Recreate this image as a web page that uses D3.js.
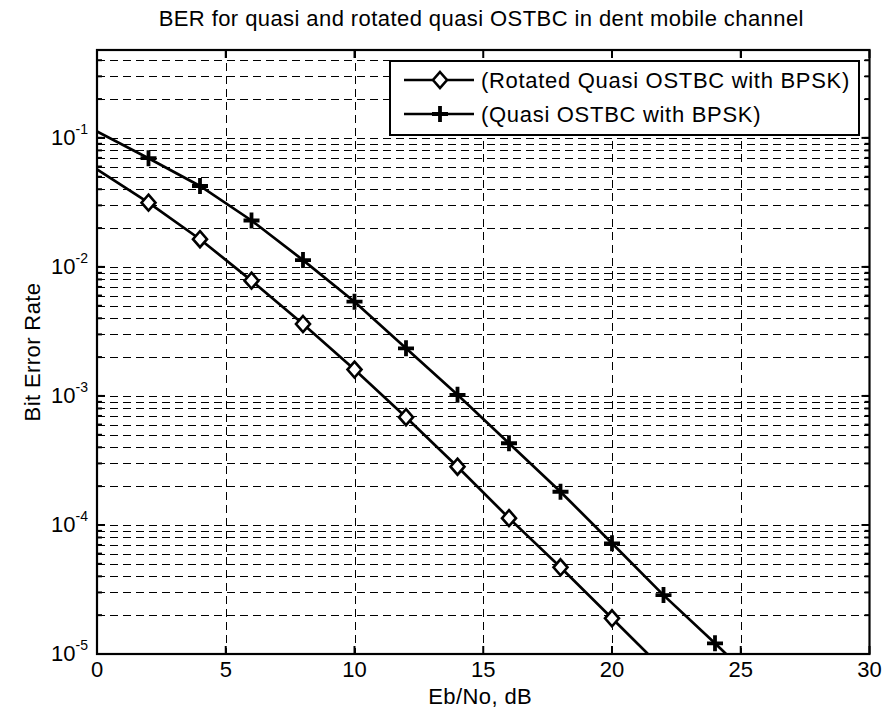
<!DOCTYPE html>
<html>
<head>
<meta charset="utf-8">
<script src="https://cdn.jsdelivr.net/npm/d3@7"></script>
<style>
  html, body { margin: 0; padding: 0; background: #fff; }
  svg { display: block; }
  text { font-family: "Liberation Sans", Arial, Helvetica, sans-serif; fill: #000; }
</style>
</head>
<body>
<script>
// ---- data ----
const titleText = "BER for quasi and rotated quasi OSTBC in dent mobile channel";
const xLabelText = "Eb/No, dB";
const yLabelText = "Bit Error Rate";
const seriesNames = ["(Rotated Quasi OSTBC with BPSK)", "(Quasi OSTBC with BPSK)"];

const snrRotated = [0, 2, 4, 6, 8, 10, 12, 14, 16, 18, 20, 22];
const berRotated = [0.0571, 0.0315, 0.0164, 0.00783, 0.00361, 0.00160, 6.84e-4, 2.83e-4, 1.13e-4, 4.70e-5, 1.89e-5, 7.6e-6];

const snrQuasi = [0, 2, 4, 6, 8, 10, 12, 14, 16, 18, 20, 22, 24, 26];
const berQuasi = [0.112, 0.0696, 0.0424, 0.0229, 0.0113, 0.00538, 0.00234, 0.00102, 4.30e-4, 1.81e-4, 7.21e-5, 2.86e-5, 1.21e-5, 5.0e-6];

const xTicks = [0, 5, 10, 15, 20, 25, 30];
const yTickExponents = [-5, -4, -3, -2, -1];

(function () {
// ---- layout ----
const W = 883, H = 713;
const pL = 97, pR = 869.5, pT = 50, pB = 654;
const FS = 22;

const svg = d3.select("body").append("svg").attr("width", W).attr("height", H);

const x = d3.scaleLinear().domain([0, 30]).range([pL, pR]);
const y = d3.scaleLog().domain([1e-5, 0.48]).range([pB, pT]);

// minor values for log grid
const minorVals = [];
for (let e = -5; e <= -1; e++) {
  for (let m = 1; m <= 9; m++) {
    const v = m * Math.pow(10, e);
    if (v > 1e-5 && v <= 0.48) minorVals.push(v);
  }
}

const grid = svg.append("g").attr("stroke", "#000").attr("stroke-width", 1).attr("stroke-dasharray", "8,5").attr("fill", "none");
grid.selectAll("line.h").data(minorVals).join("line")
  .attr("x1", pL).attr("x2", pR)
  .attr("y1", d => Math.round(y(d)) + 0.5).attr("y2", d => Math.round(y(d)) + 0.5);
grid.selectAll("line.v").data(xTicks.filter(t => t > 0 && t < 30)).join("line")
  .attr("x1", d => Math.round(x(d)) + 0.5).attr("x2", d => Math.round(x(d)) + 0.5)
  .attr("y1", pT).attr("y2", pB);

// clip
svg.append("clipPath").attr("id", "clip").append("rect")
  .attr("x", pL).attr("y", pT).attr("width", pR - pL).attr("height", pB - pT);

const series = [
  { name: seriesNames[0], xs: snrRotated, ys: berRotated, marker: "diamond" },
  { name: seriesNames[1], xs: snrQuasi, ys: berQuasi, marker: "plus" }
];

const line = d3.line().x(d => x(d[0])).y(d => y(d[1]));

const plot = svg.append("g").attr("clip-path", "url(#clip)");

function drawMarker(g, type, cx, cy) {
  if (type === "diamond") {
    g.append("path")
      .attr("d", `M${cx},${cy - 8} L${cx + 7},${cy} L${cx},${cy + 8} L${cx - 7},${cy} Z`)
      .attr("fill", "#fff").attr("stroke", "#000").attr("stroke-width", 2.6);
  } else {
    g.append("path")
      .attr("d", `M${cx - 8},${cy} L${cx + 8},${cy} M${cx},${cy - 8} L${cx},${cy + 8}`)
      .attr("fill", "none").attr("stroke", "#000").attr("stroke-width", 3.8);
  }
}

series.forEach(s => {
  const pts = s.xs.map((v, i) => [v, s.ys[i]]);
  plot.append("path").datum(pts).attr("d", line)
    .attr("fill", "none").attr("stroke", "#000").attr("stroke-width", 2.7);
  pts.filter(p => p[0] > 0 && p[1] >= 1e-5).forEach(p => drawMarker(plot, s.marker, x(p[0]), y(p[1])));
});

// axes box and ticks
svg.append("rect").attr("x", pL).attr("y", pT).attr("width", pR - pL).attr("height", pB - pT)
  .attr("fill", "none").attr("stroke", "#000").attr("stroke-width", 2.2);

const tickG = svg.append("g").attr("stroke", "#000").attr("stroke-width", 2);
xTicks.forEach(t => {
  const px = x(t);
  tickG.append("line").attr("x1", px).attr("x2", px).attr("y1", pB).attr("y2", pB - 8);
  tickG.append("line").attr("x1", px).attr("x2", px).attr("y1", pT).attr("y2", pT + 8);
});
yTickExponents.forEach(e => {
  const py = y(Math.pow(10, e));
  tickG.append("line").attr("x1", pL).attr("x2", pL + 8).attr("y1", py).attr("y2", py);
  tickG.append("line").attr("x1", pR).attr("x2", pR - 8).attr("y1", py).attr("y2", py);
});
minorVals.forEach(v => {
  const py = y(v);
  tickG.append("line").attr("x1", pL).attr("x2", pL + 5).attr("y1", py).attr("y2", py);
  tickG.append("line").attr("x1", pR).attr("x2", pR - 5).attr("y1", py).attr("y2", py);
});

// tick labels
svg.append("g").selectAll("text").data(xTicks).join("text")
  .attr("x", d => x(d)).attr("y", 677)
  .attr("text-anchor", "middle").attr("font-size", FS)
  .text(d => d);

const yl = svg.append("g");
yTickExponents.forEach(e => {
  const t = yl.append("text").attr("x", 88).attr("y", y(Math.pow(10, e)) + 7)
    .attr("text-anchor", "end").attr("font-size", FS);
  t.append("tspan").text("10");
  t.append("tspan").attr("font-size", 14).attr("dy", -11).text(String(e));
});

// title and axis labels
svg.append("text").attr("x", (pL + pR) / 2 - 2).attr("y", 26)
  .attr("text-anchor", "middle").attr("font-size", FS).attr("letter-spacing", 0.42).text(titleText);
svg.append("text").attr("x", (pL + pR) / 2 - 3).attr("y", 704)
  .attr("text-anchor", "middle").attr("font-size", FS).attr("letter-spacing", 0.4).text(xLabelText);
svg.append("text").attr("transform", `translate(40,${(pT + pB) / 2}) rotate(-90)`)
  .attr("text-anchor", "middle").attr("font-size", FS).attr("letter-spacing", 0.4).text(yLabelText);

// legend
const lg = svg.append("g");
lg.append("rect").attr("x", 390).attr("y", 61).attr("width", 469).attr("height", 74)
  .attr("fill", "#fff").attr("stroke", "#000").attr("stroke-width", 2);
const rowsY = [80, 114];
series.forEach((s, i) => {
  lg.append("line").attr("x1", 404).attr("x2", 474).attr("y1", rowsY[i]).attr("y2", rowsY[i])
    .attr("stroke", "#000").attr("stroke-width", 2.7);
  drawMarker(lg, s.marker, 440, rowsY[i]);
  lg.append("text").attr("x", 481).attr("y", rowsY[i] + 8).attr("font-size", FS).attr("letter-spacing", 0.7).text(s.name);
});
})();
</script>
</body>
</html>
